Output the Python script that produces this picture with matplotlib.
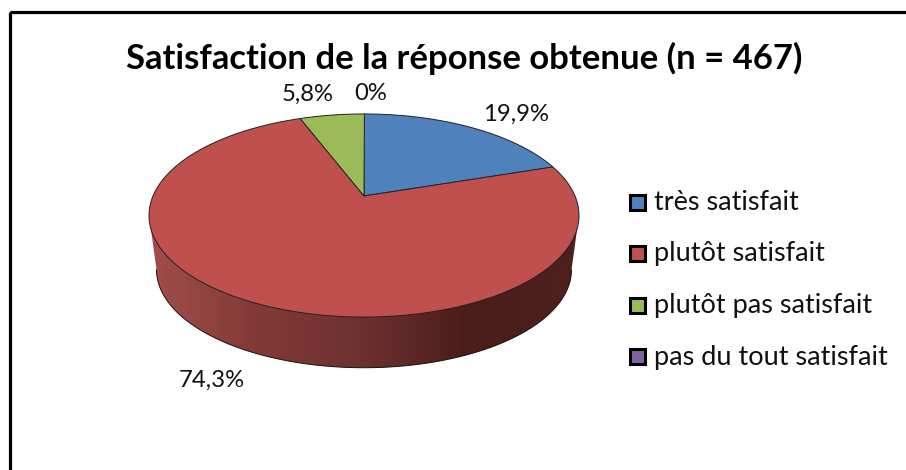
"""Pseudo-3D pie of answer satisfaction, drawn on a pixel-sized axes."""

import numpy as np
import matplotlib
matplotlib.use("Agg")
import matplotlib.pyplot as plt
from matplotlib.colors import LinearSegmentedColormap
from matplotlib.patches import Polygon, Rectangle

title = "Satisfaction de la réponse obtenue (n = 467)"
categories = ["très satisfait", "plutôt satisfait", "plutôt pas satisfait", "pas du tout satisfait"]
values = [19.9, 74.3, 5.8, 0.0]
value_labels = ["19,9%", "74,3%", "5,8%", "0%"]
colors = ["#4F81BD", "#C0504D", "#9BBB59", "#8064A2"]

# perspective of the disc, in pixels
CX, CY = 364.0, 196.0
A, B, K = 211.0, 97.8, 0.192
# the lower rim is the top rim shrunk towards a far vanishing point
DEPTH_SCALE, DEPTH_SHIFT = 0.965, 61.8


def rim(theta):
    """Top-rim pixel position for clockwise angles (degrees from 12 o'clock)."""
    t = np.radians(theta)
    u, v = np.sin(t), np.cos(t)
    d = 1 + K * v
    return CX + A * u / d, CY - B * v / d


def lower(x, y):
    return CX + (x - CX) * DEPTH_SCALE, y * DEPTH_SCALE + DEPTH_SHIFT


plt.rcParams["font.family"] = ["Lato", "DejaVu Sans"]

fig = plt.figure(figsize=(9.06, 4.70), dpi=100)
ax = fig.add_axes([0, 0, 1, 1])
ax.set_xlim(0, 906)
ax.set_ylim(470, 0)
ax.axis("off")

# frame
ax.add_patch(Rectangle((9.5, 11.5), 1000, 1000, fill=False, ec="black", lw=2.3))

ax.text(464.5, 58, title, fontsize=24.95, fontweight="bold", ha="center", va="center", color="black")

edges = np.concatenate([[0], np.cumsum(values)]) / sum(values) * 360

# side wall of the red slice, the only one facing the viewer
arc = np.arange(edges[1], edges[2] + 0.25, 0.25)
arc_x, arc_y = rim(arc)
low_x, low_y = lower(arc_x, arc_y)
right_i, left_i = np.argmax(arc_x), np.argmin(arc_x)
wall = Polygon(
    np.vstack([
        [arc_x[right_i], arc_y[right_i]],
        np.column_stack([low_x[right_i:left_i + 1], low_y[right_i:left_i + 1]]),
        [arc_x[left_i], arc_y[left_i]],
    ]),
    closed=True, fc="none", ec="none", transform=ax.transData,
)
ax.add_patch(wall)
shade = LinearSegmentedColormap.from_list(
    "wall",
    [(0.0, "#A34E4A"), (0.25, "#823A37"), (0.5, "#6C312F"), (0.74, "#4A1C1A"), (1.0, "#4E201E")],
)
img = ax.imshow(np.linspace(0, 1, 256)[None, :], cmap=shade, aspect="auto",
                extent=(149, 580, 370, 190), zorder=1)
img.set_clip_path(wall)
ax.set_xlim(0, 906)
ax.set_ylim(470, 0)

# lower rim outline
ax.plot(low_x[right_i:left_i + 1], low_y[right_i:left_i + 1], color="#1A1010", lw=0.7, zorder=2)

# top faces
for i, val in enumerate(values):
    if val == 0:
        continue
    t = np.arange(edges[i], edges[i + 1] + 0.25, 0.25)
    xs, ys = rim(t)
    pts = np.column_stack([np.r_[CX, xs], np.r_[CY, ys]])
    ax.add_patch(Polygon(pts, closed=True, fc=colors[i], ec="#222222", lw=0.7, zorder=3, joinstyle="round"))

# data labels
label_pos = [(516.5, 114), (212, 380), (308, 94), (371, 94)]
for lab, (x, y) in zip(value_labels, label_pos):
    ax.text(x, y, lab, fontsize=17.2, ha="center", va="center", color="#111111")

# legend
legend_y = [202, 253.5, 305, 356.5]
for name, col, y in zip(categories, colors, legend_y):
    ax.add_patch(Rectangle((630, y - 7.5), 15, 15, fc=col, ec="black", lw=2.2, zorder=3))
    ax.text(654, y + 0.5, name, fontsize=19.55, ha="left", va="center", color="#111111")

fig.savefig("out.png", dpi=100)
